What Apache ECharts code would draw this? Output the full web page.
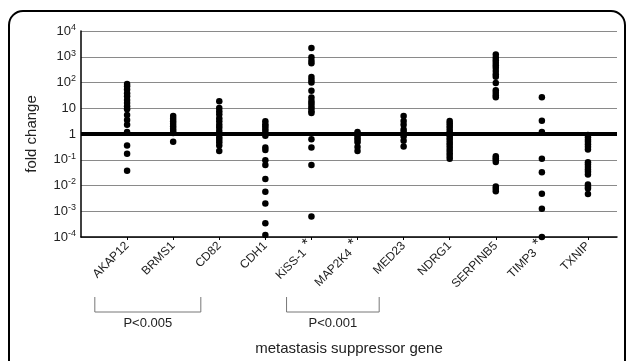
<!DOCTYPE html>
<html>
<head>
<meta charset="utf-8">
<script src="https://cdn.jsdelivr.net/npm/echarts@6/dist/echarts.min.js"></script>
<style>
  html, body { margin: 0; padding: 0; background: #fff; }
  #chart { width: 627px; height: 361px; }
</style>
</head>
<body>
<div id="chart"></div>
<script>
// gene names on the x axis (position 1..11); starred ones marked separately
const genes = ['AKAP12', 'BRMS1', 'CD82', 'CDH1', 'KiSS-1', 'MAP2K4', 'MED23', 'NDRG1', 'SERPINB5', 'TIMP3', 'TXNIP']
const starred = ['KiSS-1', 'MAP2K4', 'TIMP3']

// fold change per gene
const akap12 = [87, 71, 54, 38, 29, 21, 16, 12, 9.1, 5.5, 3.5, 2.3, 1.2, 0.36, 0.17, 0.037]
const brms1 = [5.0, 3.9, 3.1, 2.5, 2.0, 1.6, 1.3, 1.1, 0.5]
const cd82 = [18.6, 10.3, 7.7, 5.8, 4.1, 3.1, 2.3, 1.8, 1.3, 1.0, 0.75, 0.6, 0.48, 0.36, 0.22]
const cdh1 = [3.1, 2.4, 2.0, 1.6, 1.3, 1.05, 0.85, 0.3, 0.24, 0.095, 0.062, 0.018, 0.0057, 0.002, 0.00034, 0.00012]
const kiss1 = [2200, 950, 700, 560, 165, 125, 100, 48, 26, 19, 15.5, 12.3, 9.7, 7.7, 6.5, 0.63, 0.3, 0.062, 0.00062]
const map2k4 = [1.2, 1.05, 0.9, 0.72, 0.6, 0.48, 0.31, 0.22]
const med23 = [5.0, 3.2, 2.3, 1.5, 1.2, 1.0, 0.8, 0.55, 0.33]
const ndrg1 = [3.2, 2.6, 2.1, 1.7, 1.35, 1.1, 0.9, 0.72, 0.58, 0.46, 0.37, 0.29, 0.23, 0.18, 0.14, 0.11]
const serpinb5 = [1230, 910, 730, 585, 470, 370, 277, 208, 166, 95, 50, 40, 32, 27, 0.137, 0.115, 0.098, 0.081, 0.0092, 0.0075, 0.006]
const timp3 = [27, 3.3, 1.2, 0.11, 0.033, 0.0048, 0.00126, 0.0001]
const txnip = [0.92, 0.75, 0.6, 0.5, 0.4, 0.32, 0.25, 0.08, 0.065, 0.052, 0.042, 0.034, 0.027, 0.011, 0.009, 0.0076, 0.0047]

const columns = [akap12, brms1, cd82, cdh1, kiss1, map2k4, med23, ndrg1, serpinb5, timp3, txnip]

// significance brackets: [from, to] in axis units, label
const brackets = [
  { from: 0.3, to: 2.6, text: 'P<0.005' },
  { from: 4.46, to: 6.47, text: 'P<0.001' }
]

const points = []
columns.forEach((vals, i) => {
  vals.forEach(v => points.push([i + 1, v]))
})

const font = 'Liberation Sans, Arial, sans-serif'
const chart = echarts.init(document.getElementById('chart'))

const option = {
  animation: false,
  grid: { left: 81, right: 10, top: 31, bottom: 114 },
  xAxis: {
    type: 'value',
    min: 0,
    max: 11.63,
    interval: 1,
    splitLine: { show: false },
    axisLine: { lineStyle: { color: '#000', width: 1.5 } },
    axisTick: { show: true, length: 3, lineStyle: { color: '#000' } },
    axisLabel: {
      rotate: 45,
      margin: 7,
      fontSize: 12,
      fontFamily: font,
      color: '#222',
      showMinLabel: false,
      showMaxLabel: false,
      formatter: v => {
        const g = genes[Math.round(v) - 1]
        if (!g) return ''
        return starred.includes(g) ? '{n|' + g + '}{a| *}' : '{n|' + g + '}'
      },
      rich: {
        n: { fontSize: 12, fontFamily: font, color: '#222' },
        a: { fontSize: 15, fontFamily: font, color: '#222', padding: [0, 0, 7, 0] }
      }
    },
    name: 'metastasis suppressor gene',
    nameLocation: 'middle',
    nameGap: 104,
    nameTextStyle: { fontSize: 15, fontFamily: font, color: '#222' }
  },
  yAxis: {
    type: 'log',
    logBase: 10,
    min: 1e-4,
    max: 1e4,
    splitLine: { show: true, lineStyle: { color: '#8a8a8a', width: 1 } },
    axisLine: { show: true, lineStyle: { color: '#000', width: 1.5 } },
    axisTick: { show: false },
    axisLabel: {
      margin: 5,
      fontSize: 13,
      fontFamily: font,
      color: '#222',
      formatter: v => {
        const e = Math.round(Math.log10(v))
        if (e === 0) return '{b|1}'
        if (e === 1) return '{b|10}'
        return '{b|10}{s|' + e + '}'
      },
      rich: {
        b: { fontSize: 13, fontFamily: font, color: '#222' },
        s: { fontSize: 9, fontFamily: font, color: '#222', padding: [0, 0, 7, 0] }
      }
    },
    name: 'fold change',
    nameLocation: 'middle',
    nameGap: 42,
    nameTextStyle: { fontSize: 15, fontFamily: font, color: '#222' }
  },
  series: [
    {
      type: 'scatter',
      data: points,
      symbolSize: 6.5,
      itemStyle: { color: '#000', opacity: 1 },
      markLine: {
        silent: true,
        symbol: 'none',
        label: { show: false },
        lineStyle: { color: '#000', width: 4, type: 'solid' },
        data: [{ yAxis: 1 }]
      },
      z: 3
    }
  ]
}

chart.setOption(option)

// frame and brackets drawn after the axes exist
const bracketTop = 297
const bracketBottom = 312
const graphics = [
  {
    type: 'rect',
    shape: { x: 9, y: 11, width: 616, height: 380, r: 14 },
    style: { fill: null, stroke: '#000', lineWidth: 2 },
    silent: true
  }
]
brackets.forEach(b => {
  const x1 = chart.convertToPixel({ xAxisIndex: 0 }, b.from)
  const x2 = chart.convertToPixel({ xAxisIndex: 0 }, b.to)
  graphics.push({
    type: 'polyline',
    shape: { points: [[x1, bracketTop], [x1, bracketBottom], [x2, bracketBottom], [x2, bracketTop]] },
    style: { stroke: '#777', lineWidth: 1, fill: null },
    silent: true
  })
  graphics.push({
    type: 'text',
    x: (x1 + x2) / 2,
    y: 323,
    style: {
      text: b.text,
      fontSize: 13,
      fontFamily: font,
      fill: '#222',
      align: 'center',
      verticalAlign: 'middle'
    },
    silent: true
  })
})
chart.setOption({ graphic: graphics })
</script>
</body>
</html>
